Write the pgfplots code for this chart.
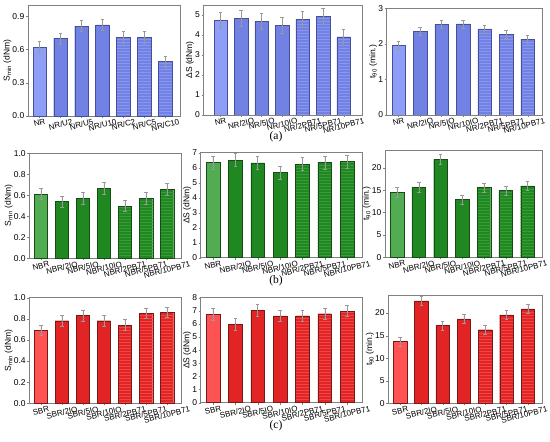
\documentclass[border=0pt]{standalone}
\usepackage{fontspec}
\setmainfont{Liberation Sans}
\newfontfamily\serifont{Liberation Serif}
\usepackage{graphicx}
\usepackage{pgfplots}
\pgfplotsset{compat=1.18}
\usetikzlibrary{patterns}

\definecolor{bA}{RGB}{142,157,246}
\definecolor{bB}{RGB}{114,130,228}
\definecolor{bP}{RGB}{135,150,240}
\definecolor{bE}{RGB}{70,80,150}
\definecolor{gA}{RGB}{82,172,82}
\definecolor{gB}{RGB}{32,136,32}
\definecolor{gP}{RGB}{55,155,55}
\definecolor{gE}{RGB}{25,75,25}
\definecolor{rA}{RGB}{255,82,82}
\definecolor{rB}{RGB}{226,36,36}
\definecolor{rP}{RGB}{240,70,70}
\definecolor{rE}{RGB}{120,25,25}
\definecolor{frame}{RGB}{128,128,128}

\newcommand\rl[1]{\rotatebox{14}{#1}}
\newcommand\rle[1]{\rotatebox{14}{#1}\hspace*{7pt}}

\pgfplotsset{
  panel/.style={
    scale only axis,
    anchor=north west,
    ybar, bar width=13.5pt, bar shift=0pt,
    axis line style={frame, line width=0.6pt},
    xtick={0,...,6},
    xtick pos=bottom, ytick pos=left,
    tick align=outside,
    major tick length=2pt,
    tick style={frame},
    ymin=0,
    xmin=-0.55, xmax=6.7,
    font=\fontsize{8.5}{9}\selectfont,
    yticklabel style={font=\fontsize{8.5}{9}\selectfont, inner sep=1.5pt},
    /pgf/number format/assume math mode=true,
    xticklabel style={font=\fontsize{8}{9}\selectfont, anchor=north, inner sep=0.5pt},
    ylabel style={font=\fontsize{8.5}{9}\selectfont, inner sep=1pt, yshift=-1.5pt},
    error bars/y dir=both, error bars/y explicit,
    error bars/error bar style={gray!80, line width=0.4pt},
    error bars/error mark options={rotate=90, mark size=1.8pt, gray!80},
  },
  dec1/.style={yticklabel style={/pgf/number format/fixed, /pgf/number format/fixed zerofill, /pgf/number format/precision=1}},
}

\begin{document}
\begin{tikzpicture}
\useasboundingbox (0pt,0pt) rectangle (550pt,-442pt);

% ---------- Row (a) ----------
\begin{axis}[panel, dec1, at={(28pt,-5pt)}, width=152pt, height=111pt,
  ymax=1.0, ytick={0,0.3,0.6,0.9},
  xticklabels={\rl{NR},\rl{NR/U2},\rl{NR/U5},\rl{NR/U10},\rl{NR/C2},\rl{NR/C5},\rl{NR/C10}},
  ylabel={S\textsubscript{min} (dNm)}]
\addplot[fill=bA, draw=bE] coordinates {(0,0.62) +- (0,0.05)};
\addplot[fill=bB, draw=bE] coordinates {(1,0.70) +- (0,0.05) (2,0.81) +- (0,0.05) (3,0.82) +- (0,0.05)};
\addplot[fill=bB, draw=bE, postaction={pattern=horizontal lines, pattern color=bP}] coordinates {(4,0.71) +- (0,0.05) (5,0.71) +- (0,0.05) (6,0.49) +- (0,0.05)};
\end{axis}

\begin{axis}[panel, at={(203.5pt,-5pt)}, width=159pt, height=110pt,
  ymax=5.5, ytick={0,1,2,3,4,5}, xmin=-0.83, xmax=6.92,
  xticklabels={\rl{NR},\rl{NR/2IO},\rl{NR/5IO},\rl{NR/10IO},\rl{NR/2PB71},\rl{NR/5PB71},\rl{NR/10PB71}},
  ylabel={ΔS (dNm)}]
\addplot[fill=bA, draw=bE] coordinates {(0,4.72) +- (0,0.4)};
\addplot[fill=bB, draw=bE] coordinates {(1,4.85) +- (0,0.4) (2,4.68) +- (0,0.4) (3,4.50) +- (0,0.4)};
\addplot[fill=bB, draw=bE, postaction={pattern=horizontal lines, pattern color=bP}] coordinates {(4,4.80) +- (0,0.4) (5,4.92) +- (0,0.4) (6,3.91) +- (0,0.4)};
\end{axis}

\begin{axis}[panel, at={(386.7pt,-8.3pt)}, width=156pt, height=106.7pt,
  ymax=3, ytick={0,1,2,3},
  xticklabels={\rl{NR},\rl{NR/2IO},\rl{NR/5IO},\rl{NR/10IO},\rl{NR/2PB71},\rl{NR/5PB71},\rle{NR/10PB71}},
  ylabel={t\textsubscript{90} (min.)}]
\addplot[fill=bA, draw=bE] coordinates {(0,1.97) +- (0,0.11)};
\addplot[fill=bB, draw=bE] coordinates {(1,2.36) +- (0,0.11) (2,2.55) +- (0,0.11) (3,2.56) +- (0,0.11)};
\addplot[fill=bB, draw=bE, postaction={pattern=horizontal lines, pattern color=bP}] coordinates {(4,2.42) +- (0,0.11) (5,2.27) +- (0,0.11) (6,2.13) +- (0,0.11)};
\end{axis}

\node[font=\serifont\fontsize{11.5}{13}\selectfont] at (276pt,-137pt) {(a)};

% ---------- Row (b) ----------
\begin{axis}[panel, dec1, at={(29.3pt,-153.3pt)}, width=152.4pt, height=105pt,
  ymax=1.0, ytick={0,0.2,0.4,0.6,0.8,1.0},
  xticklabels={\rl{NBR},\rl{NBR/2IO},\rl{NBR/5IO},\rl{NBR/10IO},\rl{NBR/2PB71},\rl{NBR/5PB71},\rl{NBR/10PB71}},
  ylabel={S\textsubscript{min} (dNm)}]
\addplot[fill=gA, draw=gE] coordinates {(0,0.613) +- (0,0.054)};
\addplot[fill=gB, draw=gE] coordinates {(1,0.540) +- (0,0.054) (2,0.571) +- (0,0.054) (3,0.667) +- (0,0.054)};
\addplot[fill=gB, draw=gE, postaction={pattern=horizontal lines, pattern color=gP}] coordinates {(4,0.498) +- (0,0.054) (5,0.571) +- (0,0.054) (6,0.657) +- (0,0.054)};
\end{axis}

\begin{axis}[panel, at={(200.7pt,-152.7pt)}, width=162pt, height=105pt,
  ymax=7, ytick={0,1,2,3,4,5,6,7},
  xticklabels={\rl{NBR},\rl{NBR/2IO},\rl{NBR/5IO},\rl{NBR/10IO},\rl{NBR/2PB71},\rl{NBR/5PB71},\rl{NBR/10PB71}},
  ylabel={ΔS (dNm)}]
\addplot[fill=gA, draw=gE] coordinates {(0,6.36) +- (0,0.43)};
\addplot[fill=gB, draw=gE] coordinates {(1,6.51) +- (0,0.43) (2,6.33) +- (0,0.43) (3,5.69) +- (0,0.43)};
\addplot[fill=gB, draw=gE, postaction={pattern=horizontal lines, pattern color=gP}] coordinates {(4,6.24) +- (0,0.43) (5,6.36) +- (0,0.43) (6,6.42) +- (0,0.43)};
\end{axis}

\begin{axis}[panel, at={(385pt,-150pt)}, width=157.7pt, height=107.3pt,
  ymax=24, ytick={0,5,10,15,20},
  xticklabels={\rl{NBR},\rl{NBR/2IO},\rl{NBR/5IO},\rl{NBR/10IO},\rl{NBR/2PB71},\rl{NBR/5PB71},\rle{NBR/10PB71}},
  ylabel={t\textsubscript{90} (min.)}]
\addplot[fill=gA, draw=gE] coordinates {(0,14.6) +- (0,1.05)};
\addplot[fill=gB, draw=gE] coordinates {(1,15.65) +- (0,1.05) (2,21.9) +- (0,1.05) (3,12.9) +- (0,1.05)};
\addplot[fill=gB, draw=gE, postaction={pattern=horizontal lines, pattern color=gP}] coordinates {(4,15.6) +- (0,1.05) (5,14.9) +- (0,1.05) (6,16.0) +- (0,1.05)};
\end{axis}

\node[font=\serifont\fontsize{11.5}{13}\selectfont] at (276pt,-281pt) {(b)};

% ---------- Row (c) ----------
\begin{axis}[panel, dec1, at={(29.3pt,-297.7pt)}, width=152.4pt, height=105.6pt,
  ymax=1.0, ytick={0,0.2,0.4,0.6,0.8,1.0},
  xticklabels={\rl{SBR},\rl{SBR/2IO},\rl{SBR/5IO},\rl{SBR/10IO},\rl{SBR/2PB71},\rl{SBR/5PB71},\rl{SBR/10PB71}},
  ylabel={S\textsubscript{min} (dNm)}]
\addplot[fill=rA, draw=rE] coordinates {(0,0.694) +- (0,0.048)};
\addplot[fill=rB, draw=rE] coordinates {(1,0.782) +- (0,0.052) (2,0.830) +- (0,0.052) (3,0.782) +- (0,0.052)};
\addplot[fill=rB, draw=rE, postaction={pattern=horizontal lines, pattern color=rP}] coordinates {(4,0.741) +- (0,0.052) (5,0.852) +- (0,0.05) (6,0.861) +- (0,0.05)};
\end{axis}

\begin{axis}[panel, at={(200.7pt,-297.7pt)}, width=162pt, height=105pt,
  ymax=8, ytick={0,1,2,3,4,5,6,7,8},
  xticklabels={\rl{SBR},\rl{SBR/2IO},\rl{SBR/5IO},\rl{SBR/10IO},\rl{SBR/2PB71},\rl{SBR/5PB71},\rl{SBR/10PB71}},
  ylabel={ΔS (dNm)}]
\addplot[fill=rA, draw=rE] coordinates {(0,6.75) +- (0,0.46)};
\addplot[fill=rB, draw=rE] coordinates {(1,5.99) +- (0,0.46) (2,7.06) +- (0,0.46) (3,6.62) +- (0,0.44)};
\addplot[fill=rB, draw=rE, postaction={pattern=horizontal lines, pattern color=rP}] coordinates {(4,6.62) +- (0,0.44) (5,6.78) +- (0,0.44) (6,6.98) +- (0,0.42)};
\end{axis}

\begin{axis}[panel, at={(388.3pt,-295pt)}, width=154.4pt, height=108.3pt,
  ymax=24, ytick={0,5,10,15,20},
  xticklabels={\rl{SBR},\rl{SBR/2IO},\rl{SBR/5IO},\rl{SBR/10IO},\rl{SBR/2PB71},\rl{SBR/5PB71},\rle{SBR/10PB71}},
  ylabel={t\textsubscript{90} (min.)}]
\addplot[fill=rA, draw=rE] coordinates {(0,13.7) +- (0,1.05)};
\addplot[fill=rB, draw=rE] coordinates {(1,22.7) +- (0,1.05) (2,17.2) +- (0,1.05) (3,18.7) +- (0,1.05)};
\addplot[fill=rB, draw=rE, postaction={pattern=horizontal lines, pattern color=rP}] coordinates {(4,16.3) +- (0,1.05) (5,19.6) +- (0,1.05) (6,20.9) +- (0,1.0)};
\end{axis}

\node[font=\serifont\fontsize{11.5}{13}\selectfont] at (276pt,-426pt) {(c)};
\end{tikzpicture}
\end{document}
